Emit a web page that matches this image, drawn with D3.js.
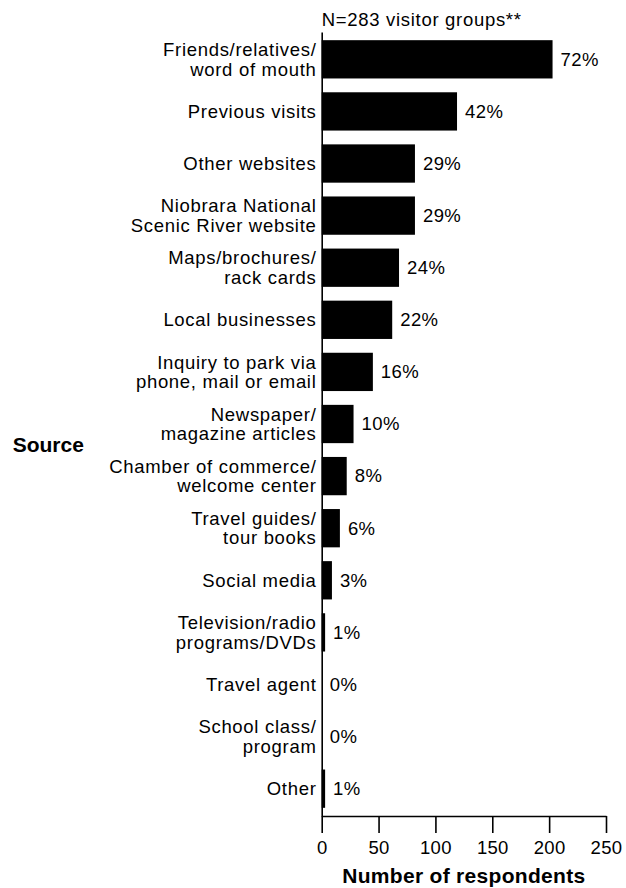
<!DOCTYPE html>
<html>
<head>
<meta charset="utf-8">
<script src="https://cdn.jsdelivr.net/npm/d3@7"></script>
<style>
  html, body { margin: 0; padding: 0; background: #fff; }
  svg { display: block; }
  text { font-family: "Liberation Sans", Arial, sans-serif; fill: #000; }
</style>
</head>
<body>
<script>
const categories = [
  "Friends/relatives/\nword of mouth",
  "Previous visits",
  "Other websites",
  "Niobrara National\nScenic River website",
  "Maps/brochures/\nrack cards",
  "Local businesses",
  "Inquiry to park via\nphone, mail or email",
  "Newspaper/\nmagazine articles",
  "Chamber of commerce/\nwelcome center",
  "Travel guides/\ntour books",
  "Social media",
  "Television/radio\nprograms/DVDs",
  "Travel agent",
  "School class/\nprogram",
  "Other"
];
const respondents = [203, 119, 82, 82, 68, 62, 45, 28, 22, 16, 9, 3, 0, 0, 3];
const percentLabels = ["72%", "42%", "29%", "29%", "24%", "22%", "16%", "10%", "8%", "6%", "3%", "1%", "0%", "0%", "1%"];
const xTicks = [0, 50, 100, 150, 200, 250];
const titleText = "N=283 visitor groups**";
const yTitle = "Source";
const xTitle = "Number of respondents";

const W = 626, H = 888;
const x0 = 321.7, x1 = 606, yTop = 32, yBottom = 816;
const FS = 18.5, LS = 0.7;

const svg = d3.select("body").append("svg").attr("width", W).attr("height", H);

const x = d3.scaleLinear().domain([0, 250]).range([x0, x1]);
const y = d3.scaleBand().domain(categories).range([yTop, yBottom])
  .paddingInner(0.265).paddingOuter(0.157);

// bars
svg.append("g").selectAll("rect").data(respondents).join("rect")
  .attr("x", x(0))
  .attr("y", (d, i) => y(categories[i]))
  .attr("width", d => x(d) - x(0))
  .attr("height", y.bandwidth())
  .attr("fill", "#000");

// x axis
const xAxis = svg.append("g").attr("transform", `translate(0,${yBottom})`)
  .call(d3.axisBottom(x).tickValues(xTicks).tickSize(17).tickSizeOuter(0).tickPadding(8));
xAxis.select(".domain").attr("stroke", "#000").attr("stroke-width", 1.6);
xAxis.selectAll(".tick line").attr("stroke", "#000").attr("stroke-width", 1.6);
xAxis.selectAll(".tick text").attr("font-size", FS).attr("letter-spacing", 0.3)
  .attr("font-family", "Liberation Sans, Arial, sans-serif");

// y axis line
const yAxis = svg.append("g").attr("transform", `translate(${x0},0)`)
  .call(d3.axisLeft(y).tickSize(0).tickFormat(""));
yAxis.select(".domain").attr("stroke", "#000").attr("stroke-width", 1.6);

// category labels
const labelX = 316.5;
const lab = svg.append("g").selectAll("text").data(categories).join("text")
  .attr("text-anchor", "end")
  .attr("font-size", FS)
  .attr("letter-spacing", LS)
  .attr("x", labelX);
lab.each(function(d) {
  const lines = d.split("\n");
  const cy = y(d) + y.bandwidth() / 2;
  const lh = 19.6;
  const start = cy - (lines.length - 1) * lh / 2 + 6.4;
  d3.select(this).selectAll("tspan").data(lines).join("tspan")
    .attr("x", labelX)
    .attr("y", (l, j) => start + j * lh)
    .text(l => l);
});

// percent labels
svg.append("g").selectAll("text").data(respondents).join("text")
  .attr("x", d => x(d) + 8)
  .attr("y", (d, i) => y(categories[i]) + y.bandwidth() / 2 + 6.4)
  .attr("font-size", FS)
  .attr("letter-spacing", 0.4)
  .text((d, i) => percentLabels[i]);

// title
svg.append("text").attr("x", x0).attr("y", 26).attr("font-size", FS)
  .attr("letter-spacing", LS).text(titleText);

// axis titles
svg.append("text").attr("x", 12.7).attr("y", 451.7).attr("font-size", 21)
  .attr("font-weight", "bold").text(yTitle);
svg.append("text").attr("x", (x0 + x1) / 2).attr("y", 883).attr("text-anchor", "middle")
  .attr("font-size", 21).attr("letter-spacing", 0.3).attr("font-weight", "bold").text(xTitle);
</script>
</body>
</html>
